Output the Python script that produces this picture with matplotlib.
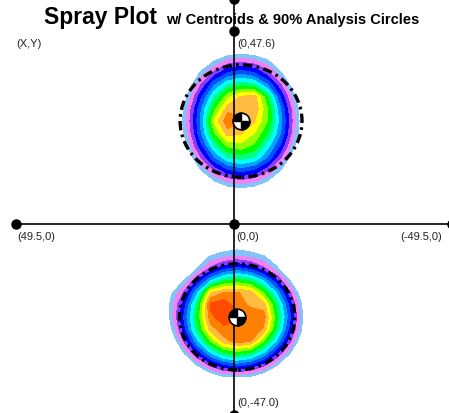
import numpy as np
import matplotlib
matplotlib.use("Agg")
import matplotlib.pyplot as plt
from matplotlib.path import Path
from matplotlib.patches import Circle

# ---------------- data ----------------
title_main = "Spray Plot"
title_sub = "w/ Centroids & 90% Analysis Circles"

x_extent = 49.5
y_top = 47.6
y_bottom = -47.0
y_axis_top_dot = 55.4

# centroids (x, y) in plot units, and 90% analysis circle radii
top_centroid = (-1.6, 25.4)
bottom_centroid = (-0.7, -22.9)
top_radius = 13.85
bottom_radius = 13.1

# grid offsets (plot units) for the spray-density grids
grid_dx = [18, 15, 12, 9, 6, 3, 0, -3, -6, -9, -12, -15, -18]   # picture left -> right
grid_dy = [18, 15, 12, 9, 6, 3, 0, -3, -6, -9, -12, -15, -18]   # picture top -> bottom

top_density = [
    [-2, -2, -2, -2, -2, -1.6, -1.0, -1.4, -2, -2, -2, -2, -2],
    [-2, -2, -2, -1.6, 0.4, 1.6, 2.0, 1.6, 0.6, -1.9, -2, -2, -2],
    [-2, -2, -2.0, 0.8, 2.8, 4.4, 5.0, 4.4, 2.8, 0.6, -2.4, -2, -2],
    [-2, -2, -0.4, 2.6, 5.4, 7.4, 8.15, 7.6, 5.4, 2.6, -0.6, -2, -2],
    [-2, -2.6, 0.84, 4.3, 7.6, 10.2, 11.6, 12.0, 8.6, 4.3, 0.84, -2.6, -2],
    [-2, -2.0, 1.7, 5.5, 9.2, 12.1, 12.3, 12.3, 9.6, 5.5, 1.7, -2.0, -2],
    [-2, -1.4, 2.0, 5.9, 10.8, 13.3, 12.6, 11.6, 9.5, 5.9, 2.0, -1.8, -2],
    [-2, -2.0, 1.7, 5.5, 9.5, 12.0, 11.6, 10.5, 8.5, 5.5, 1.7, -2.0, -2],
    [-2, -2.6, 0.84, 4.3, 7.6, 9.8, 10.2, 9.3, 7.0, 4.3, 0.84, -2.6, -2],
    [-2, -2, -0.6, 2.6, 5.4, 7.4, 8.0, 7.4, 5.4, 2.6, -0.6, -2, -2],
    [-2, -2, -2.4, 0.6, 2.8, 4.4, 5.0, 4.4, 2.8, 0.6, -2.4, -2, -2],
    [-2, -2, -2, -1.9, 0.3, 1.5, 1.9, 1.5, 0.3, -1.9, -2, -2, -2],
    [-2, -2, -2, -2, -2, -1.4, -1.0, -1.4, -2, -2, -2, -2, -2],
]

bottom_density = [
    [-4, -4, -4, -4, -4, -0.8, -0.5, -0.8, -4, -4, -4, -4, -4],
    [-4, -4, -2.9, -1.1, 0.6, 1.2, 1.5, 1.2, 0.6, -1.1, -2.9, -4, -4],
    [-4, -2.9, -2.2, 0.5, 2.7, 4.1, 4.7, 4.1, 2.7, 0.8, -2.2, -2.9, -4],
    [-4, -1.1, 0.5, 3.6, 6.3, 8.2, 8.8, 8.2, 6.3, 3.6, 0.5, -1.1, -4],
    [-4, 0.2, 2.7, 6.3, 11.5, 12.5, 12.6, 12.0, 9.5, 6.3, 2.7, -1.1, -4],
    [-3, 1.0, 4.1, 8.2, 13.8, 14.2, 13.0, 12.3, 12.0, 8.2, 4.1, 0.08, -4],
    [-3, 1.0, 4.7, 8.8, 13.2, 14.2, 13.6, 13.2, 13.0, 8.8, 4.7, 0.3, -3.7],
    [-4, 0.3, 4.1, 8.2, 12.0, 13.2, 13.2, 13.0, 12.4, 8.2, 4.1, 0.08, -4],
    [-4, -1.1, 2.7, 6.3, 9.5, 12.0, 13.0, 12.6, 9.5, 6.3, 2.7, -1.1, -4],
    [-4, -2.9, 0.5, 3.6, 6.3, 8.2, 8.8, 8.2, 6.3, 3.6, 0.5, -2.9, -4],
    [-4, -4, -2.2, 0.5, 2.7, 4.1, 4.7, 4.1, 2.7, 0.5, -2.2, -4, -4],
    [-4, -4, -4, -2.9, -1.1, 0.08, 0.2, 0.08, -1.1, -2.9, -4, -4, -4],
    [-4, -4, -4, -4, -4, -4, -4, -4, -4, -4, -4, -4, -4],
]

levels = [0.5, 1.5, 2.5, 3.5, 4.5, 5.5, 6.5, 7.5, 8.5, 9.5, 10.5, 11.5, 12.5, 13.5, 14.5]
band_colors = ["#84c2fa", "#f082f6", "#8a3cff", "#0000ff", "#0050ff", "#00a0ff",
               "#00ffff", "#00ff80", "#00ff00", "#90ff00", "#ffff00", "#ffbc40",
               "#ff8000", "#ff4a00"]

axis_dots_x = [x_extent, 0, -x_extent, 0, 0, 0]
axis_dots_y = [0, 0, 0, y_top, y_bottom, y_axis_top_dot]

# ---------------- figure ----------------
W, H = 449, 413
fig = plt.figure(figsize=(W / 100, H / 100), dpi=100)
ax = fig.add_axes([0, 0, 1, 1])
ax.set_xlim(53.18, -48.86)
ax.set_ylim(-46.6, 55.24)
ax.axis("off")

for (cx, cy), dens in [(top_centroid, top_density), (bottom_centroid, bottom_density)]:
    gx = cx + np.array(grid_dx, dtype=float)
    gy = cy + np.array(grid_dy, dtype=float)
    GX, GY = np.meshgrid(gx, gy)
    ax.contourf(GX, GY, np.array(dens), levels=levels, colors=band_colors, zorder=1)

# axes lines and dots
ax.plot([x_extent, -x_extent - 5], [0, 0], color="black", lw=1.2, zorder=3)
ax.plot([0, 0], [y_axis_top_dot + 2, y_bottom - 2], color="black", lw=1.2, zorder=3)
ax.plot(axis_dots_x, axis_dots_y, "o", color="black", ms=6.5, zorder=4, clip_on=False)

# 90% analysis circles
for (cx, cy), r in [(top_centroid, top_radius), (bottom_centroid, bottom_radius)]:
    ax.add_patch(Circle((cx, cy), r, fill=False, edgecolor="black", lw=2.4,
                        linestyle=(0, (2.8, 1.3, 0.8, 1.3)), zorder=5))

# centroid markers
for cx, cy in [top_centroid, bottom_centroid]:
    ax.plot([cx], [cy], "o", ms=12, mfc="white", mec="black", mew=1.2, zorder=6)
    ax.plot([cx], [cy], marker=Path.wedge(90, 180), ms=12, color="black", lw=0, zorder=7)
    ax.plot([cx], [cy], marker=Path.wedge(270, 360), ms=12, color="black", lw=0, zorder=7)

# labels
lab = dict(fontsize=8, color="#222222", family=["Liberation Sans", "DejaVu Sans"], zorder=8)
ax.text(49.5, 44.4, "(X,Y)", ha="left", va="center", **lab)
ax.text(-0.7, 44.4, "(0,47.6)", ha="left", va="center", **lab)
ax.text(49.3, -3.2, "(49.5,0)", ha="left", va="center", **lab)
ax.text(-0.45, -3.2, "(0,0)", ha="left", va="center", **lab)
ax.text(-47.3, -3.2, "(-49.5,0)", ha="right", va="center", **lab)
ax.text(-0.7, -44.1, "(0,-47.0)", ha="left", va="center", **lab)

fig.text(44 / W, 1 - 24 / H, title_main, fontsize=16.5, fontweight="bold",
         family=["Liberation Sans", "DejaVu Sans"], ha="left", va="baseline")
fig.text(166 / W, 1 - 24 / H, title_sub, fontsize=10.5, fontweight="bold",
         family=["Liberation Sans", "DejaVu Sans"], ha="left", va="baseline")

fig.savefig("out.png", dpi=100)
